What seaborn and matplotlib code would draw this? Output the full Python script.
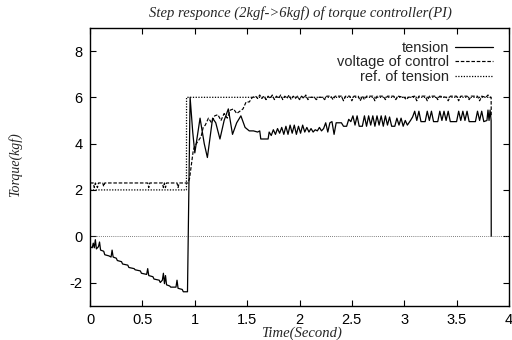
import matplotlib

matplotlib.use("Agg")

import matplotlib.pyplot as plt
import pandas as pd
import seaborn as sns

# ---------------------------------------------------------------------------
# Data (time in s, torque in kgf)
# ---------------------------------------------------------------------------

tension_t = [
    0.00, 0.02, 0.03, 0.04, 0.05, 0.06, 0.08, 0.09, 0.10, 0.13, 0.14, 0.18,
    0.20, 0.21, 0.22, 0.25, 0.26, 0.30, 0.31, 0.36, 0.37, 0.42, 0.43, 0.48,
    0.49, 0.54, 0.55, 0.56, 0.60, 0.61, 0.66, 0.67, 0.69, 0.70, 0.71, 0.72,
    0.73, 0.76, 0.77, 0.82, 0.83, 0.84, 0.88, 0.89, 0.925,
    0.93, 0.955, 0.98, 1.00, 1.05, 1.09, 1.12, 1.17, 1.20, 1.24, 1.28, 1.32,
    1.36, 1.40, 1.44, 1.48,
    1.52, 1.56, 1.60, 1.62, 1.63, 1.70, 1.71, 1.73, 1.75, 1.77, 1.79, 1.81,
    1.83, 1.85, 1.87, 1.89, 1.91, 1.93, 1.95, 1.97, 1.99, 2.01, 2.03, 2.05,
    2.07, 2.09, 2.11, 2.13, 2.15, 2.17, 2.19, 2.21, 2.23, 2.25, 2.27, 2.29,
    2.31, 2.33, 2.35, 2.40, 2.42, 2.45, 2.47, 2.49, 2.51, 2.53, 2.55, 2.57,
    2.60, 2.62, 2.64, 2.66, 2.68, 2.70, 2.72, 2.74, 2.76, 2.78, 2.80, 2.82,
    2.84, 2.86, 2.88, 2.91, 2.93, 2.95, 2.97, 2.99, 3.01, 3.03, 3.06, 3.08,
    3.10, 3.12, 3.14, 3.16, 3.20, 3.22, 3.24, 3.26, 3.28, 3.32, 3.34, 3.36,
    3.38, 3.40, 3.42, 3.44, 3.50, 3.52, 3.54, 3.56, 3.58, 3.60, 3.62, 3.68,
    3.70, 3.72, 3.74, 3.76, 3.79, 3.80, 3.81, 3.82, 3.83, 3.831,
]
tension_v = [
    -0.45, -0.50, -0.30, -0.50, -0.15, -0.55, -0.45, -0.25, -0.60, -0.65, -0.80, -0.85,
    -0.90, -0.60, -0.90, -0.95, -1.05, -1.10, -1.20, -1.25, -1.35, -1.40, -1.45, -1.50,
    -1.60, -1.65, -1.40, -1.70, -1.75, -1.85, -1.90, -2.00, -1.90, -1.60, -2.05, -1.70,
    -2.10, -2.15, -2.20, -2.20, -1.90, -2.25, -2.30, -2.40, -2.40,
    -2.40, 6.00, 4.50, 3.60, 5.10, 4.00, 3.40, 5.10, 4.90, 4.20, 5.00, 5.50,
    4.40, 4.90, 5.20, 4.70,
    4.55, 4.55, 4.50, 4.55, 4.20, 4.20, 4.50, 4.35, 4.60, 4.40, 4.65, 4.45,
    4.70, 4.40, 4.75, 4.40, 4.80, 4.45, 4.80, 4.40, 4.75, 4.45, 4.80, 4.50,
    4.70, 4.50, 4.65, 4.50, 4.60, 4.55, 4.70, 4.55, 4.65, 4.90, 4.50, 4.90,
    4.95, 4.40, 4.90, 4.90, 4.75, 4.75, 5.05, 4.95, 5.20, 4.80, 5.20, 4.75,
    4.75, 5.20, 4.75, 5.20, 4.80, 5.20, 4.75, 5.20, 4.80, 5.20, 4.75, 5.20,
    4.80, 5.15, 4.75, 4.75, 5.10, 4.80, 5.10, 4.75, 5.00, 4.80, 5.00, 5.15,
    5.40, 5.00, 5.40, 4.95, 4.95, 5.40, 5.00, 5.40, 4.95, 4.95, 5.40, 5.00,
    5.40, 5.00, 5.40, 4.95, 4.95, 5.40, 5.00, 5.40, 5.00, 5.40, 4.95, 4.95,
    5.40, 5.00, 5.40, 4.95, 5.00, 5.45, 5.00, 5.45, 5.00, 0.00,
]

control_t = [
    0.00, 0.03, 0.04, 0.05, 0.07, 0.08, 0.12, 0.13, 0.14, 0.55, 0.56, 0.57,
    0.69, 0.70, 0.71, 0.72, 0.73, 0.83, 0.84, 0.85, 0.935, 0.95,
    0.985, 1.00, 1.03, 1.06, 1.08, 1.10, 1.13, 1.16, 1.19, 1.22, 1.25, 1.28,
    1.31, 1.34, 1.37, 1.40, 1.43, 1.46, 1.49, 1.52, 1.55, 1.58,
    1.60, 1.62, 1.64, 1.66, 1.68, 1.70, 1.72, 1.74, 1.76, 1.78, 1.80, 1.82,
    1.84, 1.86, 1.88, 1.90, 1.92, 1.94, 1.96, 1.98, 2.00, 2.02, 2.04, 2.06,
    2.08, 2.10, 2.14, 2.16, 2.18, 2.22, 2.24, 2.26, 2.30, 2.32, 2.34, 2.40,
    2.42, 2.44, 2.48, 2.50, 2.52, 2.56, 2.58, 2.60, 2.62, 2.64, 2.70, 2.72,
    2.74, 2.80, 2.82, 2.84, 2.90, 2.92, 2.94, 3.00, 3.02, 3.04, 3.10, 3.12,
    3.14, 3.20, 3.22, 3.24, 3.30, 3.32, 3.34, 3.40, 3.42, 3.44, 3.50, 3.52,
    3.54, 3.60, 3.62, 3.64, 3.70, 3.72, 3.74, 3.78, 3.80, 3.82, 3.83, 3.831,
]
control_v = [
    2.30, 2.30, 2.10, 2.30, 2.10, 2.30, 2.30, 2.15, 2.30, 2.30, 2.10, 2.30,
    2.30, 2.10, 2.30, 2.10, 2.30, 2.30, 2.10, 2.30, 2.30, 2.50,
    3.70, 3.90, 4.10, 4.30, 4.70, 4.80, 5.10, 4.90, 5.20, 5.25, 5.00, 5.30,
    5.10, 5.45, 5.50, 5.30, 5.40, 5.50, 5.80, 5.80, 6.00, 6.05,
    5.95, 6.10, 5.95, 6.05, 5.90, 6.05, 5.95, 6.10, 5.90, 6.05, 5.95, 6.10,
    5.90, 6.05, 5.95, 6.10, 5.90, 6.05, 5.95, 6.05, 5.90, 6.05, 5.95, 6.10,
    5.90, 6.00, 6.00, 5.90, 6.00, 6.00, 5.90, 6.05, 6.05, 5.90, 6.05, 6.05,
    5.85, 6.05, 6.05, 5.85, 6.05, 6.05, 5.85, 6.05, 5.90, 6.05, 6.05, 5.85,
    6.05, 6.05, 5.90, 6.05, 6.05, 5.90, 6.05, 6.00, 5.90, 6.00, 6.05, 5.85,
    6.05, 6.05, 5.85, 6.05, 6.05, 5.90, 6.05, 6.00, 5.85, 6.05, 6.05, 5.85,
    6.05, 6.05, 5.90, 6.05, 6.05, 5.85, 6.05, 6.00, 6.10, 6.00, 6.00, 5.20,
]

reference_t = [0.00, 0.92, 0.921, 3.83]
reference_v = [2.00, 2.00, 6.00, 6.00]

x_ticks = [0, 0.5, 1, 1.5, 2, 2.5, 3, 3.5, 4]
y_ticks = [-2, 0, 2, 4, 6, 8]

# ---------------------------------------------------------------------------
# Plot
# ---------------------------------------------------------------------------

sns.set_style("ticks")
plt.rcParams.update(
    {
        "font.family": ["Liberation Sans", "DejaVu Sans"],
        "axes.unicode_minus": False,
        "axes.linewidth": 1.0,
        "axes.edgecolor": "black",
        "xtick.direction": "in",
        "ytick.direction": "in",
        "xtick.top": True,
        "ytick.right": True,
        "xtick.major.size": 4,
        "ytick.major.size": 4,
    }
)
SERIF = ["Liberation Serif", "DejaVu Serif"]

fig, ax = plt.subplots(figsize=(5.12, 3.4), dpi=100)
fig.subplots_adjust(left=0.176, right=0.994, top=0.918, bottom=0.101)

# gnuplot style zero axis
ax.axhline(0, color="#555555", linestyle=(0, (1, 1.5)), linewidth=0.6)

series = [
    ("tension", tension_t, tension_v, "-", 0.9),
    ("voltage of control", control_t, control_v, (0, (3, 1.5)), 0.85),
    ("ref. of tension", reference_t, reference_v, (0, (1, 1.2)), 0.9),
]
for name, t, v, ls, lw in series:
    df = pd.DataFrame({"t": t, "v": v})
    sns.lineplot(
        data=df, x="t", y="v", sort=False, estimator=None,
        color="black", linestyle=ls, linewidth=lw, label=name, ax=ax,
    )

ax.set_xlim(0, 4)
ax.set_ylim(-3, 9)
ax.set_xticks(x_ticks)
ax.set_xticklabels([f"{x:g}" for x in x_ticks])
ax.set_yticks(y_ticks)
ax.tick_params(axis="both", labelsize=10.5, width=0.8, colors="black")
ax.tick_params(axis="x", pad=5.5)
ax.tick_params(axis="y", pad=5.5)
ax.set_xlabel("")
ax.set_ylabel("")

leg = ax.legend(
    loc="upper right", bbox_to_anchor=(0.975, 0.975), frameon=False,
    markerfirst=False, fontsize=10.5, handlelength=2.6, handletextpad=0.4,
    labelspacing=0.05, borderaxespad=0.0,
)
for text in leg.get_texts():
    text.set_ha("right")

fig.text(0.586, 0.962, "Step responce (2kgf->6kgf) of torque controller(PI)",
         ha="center", va="center", fontsize=10.5, style="italic", family=SERIF)
fig.text(0.030, 0.515, "Torque(kgf)", ha="center", va="center", rotation=90,
         fontsize=10, style="italic", family=SERIF)
fig.text(0.588, 0.020, "Time(Second)", ha="center", va="center",
         fontsize=10.5, style="italic", family=SERIF)

fig.savefig("out.png", dpi=100)
